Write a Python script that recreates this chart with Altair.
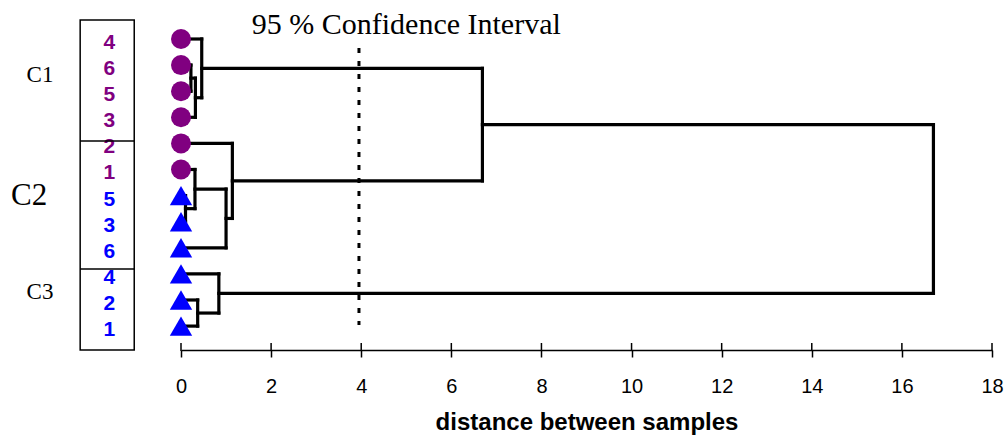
import altair as alt
import pandas as pd

# ---- data -------------------------------------------------------------
leaf_labels = ["4", "6", "5", "3", "2", "1", "5", "3", "6", "4", "2", "1"]
leaf_group = ["circle"] * 6 + ["triangle"] * 6

# merges: node ids 0..11 are leaves, merges get ids 12.. in order
merge_left = [1, 12, 0, 6, 5, 16, 4, 10, 9, 14, 21]
merge_right = [2, 3, 13, 7, 15, 8, 17, 11, 19, 18, 20]
merge_height = [0.22, 0.32, 0.46, 0.10, 0.31, 1.00, 1.14, 0.37, 0.84, 6.69, 16.7]

tick_values = [0, 2, 4, 6, 8, 10, 12, 14, 16, 18]
confidence_cut = 3.95
group_names = ["C1", "C2", "C3"]

# ---- build dendrogram segments from the tree --------------------------
n_leaf = len(leaf_labels)
node_y = list(range(n_leaf))
node_h = [0.0] * n_leaf
segs = []
for a, b, h in zip(merge_left, merge_right, merge_height):
    ya, yb = node_y[a], node_y[b]
    segs.append({"x": node_h[a], "x2": h, "y": ya, "y2": ya})
    segs.append({"x": node_h[b], "x2": h, "y": yb, "y2": yb})
    segs.append({"x": h, "x2": h, "y": ya, "y2": yb})
    node_y.append((ya + yb) / 2)
    node_h.append(h)
seg_df = pd.DataFrame(segs)

leaf_df = pd.DataFrame({
    "idx": list(range(n_leaf)),
    "label": leaf_labels,
    "group": leaf_group,
    "zero": [0.0] * n_leaf,
})
tick_df = pd.DataFrame({"t": tick_values})
one = pd.DataFrame({"k": [0]})

xs = alt.Scale(domain=[0, 18], nice=False, zero=False)
ys = alt.Scale(domain=[-0.728, 11.916], reverse=True, nice=False, zero=False)
col_scale = alt.Scale(domain=["circle", "triangle"], range=["#800080", "#0000ff"])

# ---- layers ------------------------------------------------------------
axis_layer = alt.Chart(tick_df).mark_rule(color="black", strokeWidth=1.5).encode(
    x=alt.X("t:Q", scale=xs, axis=alt.Axis(
        values=tick_values, format="d", grid=False,
        domainColor="black", domainWidth=1.5,
        tickColor="black", tickWidth=1.5, tickSize=7,
        labelFont="Liberation Sans", labelFontSize=20, labelColor="black",
        labelFontWeight="normal",
        labelPadding=19, labelFlush=False,
        title="distance between samples", titleFont="Liberation Sans",
        titleFontSize=24, titleFontWeight="bold", titleColor="black",
        titlePadding=14)),
    y=alt.value(323), y2=alt.value(331),
)

segments = alt.Chart(seg_df).mark_rule(color="black", strokeWidth=3.2, strokeCap="square").encode(
    x=alt.X("x:Q", scale=xs), x2="x2:Q",
    y=alt.Y("y:Q", scale=ys, axis=None), y2="y2:Q",
)

cut_line = alt.Chart(one).mark_rule(color="black", strokeWidth=3, strokeDash=[5, 8]).encode(
    x=alt.datum(confidence_cut),
    y=alt.datum(0.345), y2=alt.datum(10.96),
)

circles = alt.Chart(leaf_df).transform_filter(alt.datum.group == "circle").mark_point(
    shape="circle", filled=True, opacity=1, size=400, color="#800080"
).encode(x=alt.X("zero:Q", scale=xs), y=alt.Y("idx:Q", scale=ys))

triangles = alt.Chart(leaf_df).transform_filter(alt.datum.group == "triangle").mark_point(
    shape="triangle-up", filled=True, opacity=1, size=500, color="#0000ff"
).encode(x=alt.X("zero:Q", scale=xs), y=alt.Y("idx:Q", scale=ys))

leaf_text = alt.Chart(leaf_df).mark_text(
    font="Liberation Sans", fontSize=21, fontWeight=700, baseline="middle", dy=4
).encode(
    x=alt.datum(-1.59), y=alt.Y("idx:Q", scale=ys), text="label:N",
    color=alt.Color("group:N", scale=col_scale, legend=None),
)

box = alt.Chart(one).mark_rect(fill=None, stroke="black", strokeWidth=1.5).encode(
    x=alt.datum(-2.238), x2=alt.datum(-1.038),
    y=alt.datum(-0.728), y2=alt.datum(11.916),
)
div1 = alt.Chart(one).mark_rule(color="black", strokeWidth=1.5).encode(
    x=alt.datum(-2.238), x2=alt.datum(-1.038), y=alt.datum(3.91),
)
div2 = alt.Chart(one).mark_rule(color="black", strokeWidth=1.5).encode(
    x=alt.datum(-2.238), x2=alt.datum(-1.038), y=alt.datum(8.81),
)

c1 = alt.Chart(one).mark_text(text=group_names[0], font="Liberation Serif", fontSize=23,
                              fontWeight="normal", baseline="middle", color="black").encode(
    x=alt.datum(-3.13), y=alt.datum(1.38))
c2 = alt.Chart(one).mark_text(text=group_names[1], font="Liberation Serif", fontSize=31,
                              fontWeight="normal", baseline="middle", color="black").encode(
    x=alt.datum(-3.37), y=alt.datum(6.0))
c3 = alt.Chart(one).mark_text(text=group_names[2], font="Liberation Serif", fontSize=23,
                              fontWeight="normal", baseline="middle", color="black").encode(
    x=alt.datum(-3.13), y=alt.datum(9.7))

title = alt.Chart(one).mark_text(text="95 % Confidence Interval", font="Liberation Serif",
                                 fontSize=30, fontWeight="normal", baseline="middle",
                                 color="black").encode(
    x=alt.datum(5.0), y=alt.datum(-0.55))

chart = alt.layer(
    axis_layer, segments, cut_line, circles, triangles, leaf_text,
    box, div1, div2, c1, c2, c3, title,
).properties(
    width=811, height=330,
    padding={"left": 181, "top": 20, "right": 14, "bottom": 93},
    autosize=alt.AutoSizeParams(type="none"),
    background="white",
).configure_view(stroke=None)

chart.save("out.html", embed_options={"renderer": "svg", "actions": False})
